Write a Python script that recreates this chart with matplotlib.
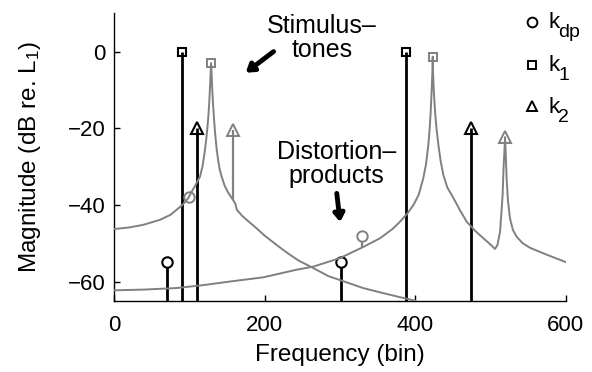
import matplotlib
matplotlib.use('Agg')
import matplotlib.pyplot as plt

plt.rcParams['font.family'] = ['Liberation Sans', 'DejaVu Sans']
plt.rcParams['mathtext.fontset'] = 'custom'
plt.rcParams['mathtext.rm'] = 'Liberation Sans'

# Stimulus tones and distortion product (black stems)
k_dp = [70, 301]
L_dp = [-55, -55]
k_1 = [90, 388]
L_1 = [0, 0]
k_2 = [110, 474]
L_2 = [-20, -20]

# Measured response components (gray markers) and where their stems start
g_dp = [99, 330]
gL_dp = [-38, -48]
g_dp_base = [-38.2, -51]
g_1 = [129, 423.5]
gL_1 = [-3, -1.3]
g_2 = [157.5, 519.6]
gL_2 = [-20.5, -22.3]
g_2_base = [-38.5, -22.3]

# Response spectra
specA_k = [0, 20, 39, 61, 75, 83, 91, 98.8, 103, 107, 111, 114.3, 117.5,
           119.5, 120.9, 122.5, 124, 125.3, 126.5, 127.5, 128.3, 129, 129.7,
           130.5, 131.5, 132.7, 134, 135.3, 136.5, 138.5, 140.5, 143, 147,
           152, 156.4, 157.5, 161, 163.3, 170, 178, 190, 200, 215, 230, 245,
           263, 285, 300, 331, 355, 376, 400]
specA_L = [-46.3, -45.9, -45.2, -43.9, -42.6, -41.3, -40, -38.2, -36.6, -35.3,
           -33.8, -32.6, -30, -27.5, -25.6, -23, -20, -17, -13.5, -9.5, -6, -3,
           -6, -9.5, -13.5, -17, -20.5, -23.3, -25.6, -28.5, -30.8, -32.6, -35,
           -36.9, -38.2, -38.5, -39.6, -41.3, -42.8, -44.2, -46.2, -48, -50.3,
           -52.5, -54.5, -56.3, -58.6, -59.6, -61.7, -62.9, -63.9, -65]
specB_k = [0, 40, 83, 120, 154, 198.5, 243, 265, 300, 331, 353.5, 370, 380,
           390, 398, 405, 411, 414.5, 417.7, 419.5, 420.8, 422, 423, 423.5,
           424, 425, 426.6, 428.5, 431, 434, 437.6, 443, 451, 460, 468.7, 480,
           490.8, 500, 506.3, 509.5, 513, 516.4, 517.5, 519, 519.6, 520.4,
           521.7, 523.5, 526.2, 530, 535, 543, 552.8, 575, 600]
specB_L = [-62.3, -62.1, -61.7, -60.9, -60, -58.9, -56.9, -56.1, -53.9, -51,
           -48.7, -46.3, -44.4, -42.2, -40, -37.3, -33, -29.5, -24.3, -20,
           -15.7, -10.5, -5.5, -1.3, -5.5, -10.5, -15.7, -20, -24.3, -28.5,
           -32.2, -35.5, -38.2, -41.5, -44.4, -46.8, -48.7, -50.3, -51.5,
           -50.5, -47, -37.4, -31, -25, -22.3, -26, -33, -39, -43.5, -46.5,
           -48.3, -50, -51.2, -53, -54.9]

gray = '#808080'
bottom = -65

fig = plt.figure(figsize=(5.92, 3.72), dpi=100)
ax = fig.add_axes([0.1926, 0.1917, 0.7627, 0.7726])

ax.plot(specA_k, specA_L, color=gray, lw=1.4, zorder=3)
ax.plot(specB_k, specB_L, color=gray, lw=1.4, zorder=3)

# gray stems from the spectrum up to the markers
ax.vlines(g_dp, g_dp_base, gL_dp, color=gray, lw=1.6, zorder=2)
ax.vlines(g_2, g_2_base, gL_2, color=gray, lw=1.6, zorder=2)
ax.plot(g_dp, gL_dp, 'o', ms=7.5, mec=gray, mfc='white', mew=1.4, zorder=2.5)
ax.plot(g_1, gL_1, 's', ms=6, mec=gray, mfc='none', mew=1.4, zorder=4)
ax.plot(g_2, gL_2, '^', ms=8, mec=gray, mfc='none', mew=1.4, zorder=4)

# black stems from the axis floor
for k, L, m, ms in [(k_dp, L_dp, 'o', 7.5), (k_1, L_1, 's', 6), (k_2, L_2, '^', 8)]:
    ax.vlines(k, bottom, L, color='k', lw=2.0, zorder=2)
    ax.plot(k, L, m, ms=ms, mec='k', mfc='white' if m == 'o' else 'none',
            mew=1.5, zorder=2.5 if m == 'o' else 4)

ax.set_xlim(0, 600)
ax.set_ylim(bottom, 10)
ax.set_xticks([0, 200, 400, 600])
ax.set_yticks([-60, -40, -20, 0])
for s in ['top', 'right']:
    ax.spines[s].set_visible(False)
for s in ['left', 'bottom']:
    ax.spines[s].set_linewidth(1.0)
ax.tick_params(direction='in', length=4, width=1.0, labelsize=16)
ax.tick_params(axis='x', pad=10)
ax.tick_params(axis='y', pad=6)
ax.set_xlabel('Frequency (bin)', fontsize=17.5, labelpad=6)
ax.set_ylabel(r'Magnitude (dB re. $\mathregular{L_1}$)', fontsize=17.5, labelpad=18)

# annotations
ax.text(276, 3.5, 'Stimulus–\ntones', fontsize=18, ha='center', va='center',
        linespacing=1.0)
ax.text(296, -29.4, 'Distortion–\nproducts', fontsize=18, ha='center', va='center',
        linespacing=1.02)
arrow = dict(arrowstyle='-|>,head_length=0.45,head_width=0.3', lw=3.5, color='k',
             shrinkA=0, shrinkB=0)
ax.annotate('', xy=(175, -5.5), xytext=(212, 0), arrowprops=arrow)
ax.annotate('', xy=(300.5, -44.5), xytext=(296, -37), arrowprops=arrow)

# marker key: symbol, "k" and its subscript
for y, m, ms, sub in [(7.8, 'o', 7, 'dp'), (-3.5, 's', 6, '1'), (-14.3, '^', 7.5, '2')]:
    ax.plot([554.8], [y], m, ms=ms, mec='k', mfc='none', mew=1.4, clip_on=False)
    ax.text(576.7, y - 1.6, 'k', fontsize=16, ha='left', va='baseline')
    ax.text(590, y - 4.0, sub, fontsize=14, ha='left', va='baseline')

fig.savefig('out.png', dpi=100)
